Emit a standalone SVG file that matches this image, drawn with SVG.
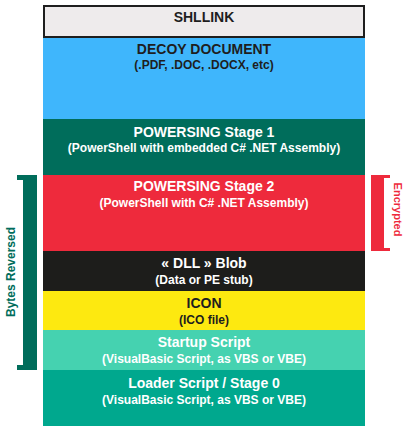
<svg xmlns="http://www.w3.org/2000/svg" width="408" height="432" viewBox="0 0 408 432">
<style>
.t{font-family:"Liberation Sans",Arial,sans-serif;font-weight:bold;font-size:14px;text-anchor:middle}
.s{font-family:"Liberation Sans",Arial,sans-serif;font-weight:bold;font-size:12px;text-anchor:middle}
.side{font-family:"Liberation Sans",Arial,sans-serif;font-weight:bold;font-size:12px;text-anchor:middle;dominant-baseline:central}
.w{fill:#ffffff}
.d{fill:#1e1e1e}
</style>
<rect width="408" height="432" fill="#ffffff"/>
<g id="shllink">
<rect x="44" y="6" width="320" height="31" fill="#eeebec" stroke="#1e1e1e" stroke-width="2"/>
<text class="t d" x="204" y="22">SHLLINK</text>
</g>
<g id="decoy-document">
<rect x="43" y="38" width="322" height="81" fill="#3fb6fc"/>
<text class="t d" x="204" y="54">DECOY DOCUMENT</text>
<text class="s d" x="204" y="69">(.PDF, .DOC, .DOCX, etc)</text>
</g>
<g id="powersing-stage-1">
<rect x="43" y="119" width="322" height="56" fill="#006d5b"/>
<text class="t w" x="204" y="136.5">POWERSING Stage 1</text>
<text class="s w" x="204" y="152">(PowerShell with embedded C# .NET Assembly)</text>
</g>
<g id="powersing-stage-2">
<rect x="43" y="175" width="322" height="76" fill="#ee2a3c"/>
<text class="t w" x="204" y="191">POWERSING Stage 2</text>
<text class="s w" x="204" y="207">(PowerShell with C# .NET Assembly)</text>
</g>
<g id="dll-blob">
<rect x="43" y="251" width="322" height="40" fill="#1d1d1b"/>
<text class="t w" x="204" y="267.5">« DLL » Blob</text>
<text class="s w" x="204" y="283.5">(Data or PE stub)</text>
</g>
<g id="icon">
<rect x="43" y="291" width="322" height="39" fill="#fde910"/>
<text class="t d" x="204" y="307.5">ICON</text>
<text class="s d" x="204" y="323.5">(ICO file)</text>
</g>
<g id="startup-script">
<rect x="43" y="330" width="322" height="40" fill="#45d2b0"/>
<text class="t w" x="204" y="346.5">Startup Script</text>
<text class="s w" x="204" y="362.5">(VisualBasic Script, as VBS or VBE)</text>
</g>
<g id="loader-script">
<rect x="43" y="370" width="322" height="56" fill="#00a88e"/>
<text class="t w" x="204" y="387.5">Loader Script / Stage 0</text>
<text class="s w" x="204" y="403.5">(VisualBasic Script, as VBS or VBE)</text>
</g>
<g id="connectors"></g>
<g id="bytes-reversed">
<polygon points="17,175 37,175 37,370 17,370 17,365 23,365 23,180 17,180" fill="#006d5b"/>
<text class="side" fill="#006d5b" transform="translate(11,272) rotate(-90)">Bytes Reversed</text>
</g>
<g id="encrypted">
<polygon points="371,175 390,175 390,178 384,178 384,248 390,248 390,251 371,251" fill="#ee2a3c"/>
<text class="side" fill="#ee2a3c" font-size="11" style="font-size:11px" transform="translate(398,209.5) rotate(90)">Encrypted</text>
</g>
</svg>
